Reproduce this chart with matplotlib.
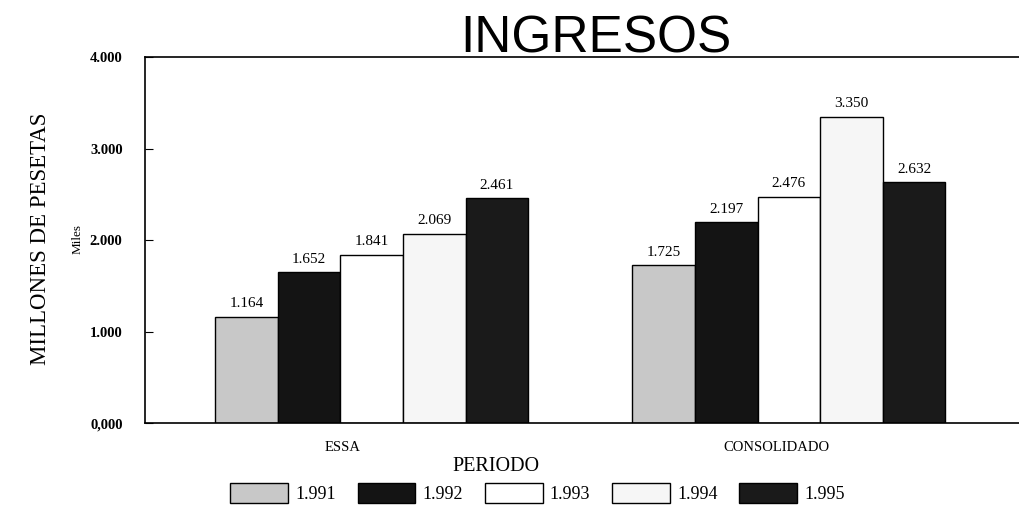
import numpy as np
import matplotlib.pyplot as plt

categories = ["ESSA", "CONSOLIDADO"]
years = ["1.991", "1.992", "1.993", "1.994", "1.995"]
values = {
    "1.991": [1.164, 1.725],
    "1.992": [1.652, 2.197],
    "1.993": [1.841, 2.476],
    "1.994": [2.069, 3.350],
    "1.995": [2.461, 2.632],
}
yticks = [0, 1, 2, 3, 4]
ytick_labels = ["0,000", "1.000", "2.000", "3.000", "4.000"]

colors = ["#c8c8c8", "#141414", "#ffffff", "#f6f6f6", "#1a1a1a"]

serif = ["Liberation Serif", "DejaVu Serif"]
plt.rcParams["font.family"] = serif

fig = plt.figure(figsize=(10.2, 5.2), dpi=100)
ax = fig.add_axes([0.142, 0.1865, 0.858, 0.7035])

x = np.arange(len(categories))
w = 0.15
for i, yr in enumerate(years):
    pos = x + (i - 2) * w
    bars = ax.bar(pos, values[yr], width=w, color=colors[i], edgecolor="black",
                  linewidth=1.0, label=yr)
    for b, v in zip(bars, values[yr]):
        ax.text(b.get_x() + b.get_width() / 2, v + 0.07, f"{v:.3f}",
                ha="center", va="bottom", fontsize=11)

ax.set_xlim(-0.544, 1.554)
ax.set_ylim(0, 4)
ax.set_yticks(yticks)
ax.set_yticklabels(ytick_labels, fontsize=10.5, fontweight="bold")
ax.tick_params(axis="y", direction="in", length=6, pad=16)
ax.set_xticks(x + np.array([-0.07, -0.03]))
ax.set_xticklabels(categories, fontsize=10.5)
ax.tick_params(axis="x", length=0, pad=13)
ax.spines["right"].set_visible(False)
for s in ["left", "top", "bottom"]:
    ax.spines[s].set_linewidth(1.2)

fig.text(0.584, 0.925, "INGRESOS", fontsize=37, ha="center", va="center",
         family=["Liberation Sans", "DejaVu Sans"])
fig.text(0.040, 0.54, "MILLONES DE PESETAS", rotation=90, fontsize=16.5,
         ha="center", va="center")
fig.text(0.076, 0.54, "Miles", rotation=90, fontsize=9.5, ha="center", va="center")
fig.text(0.486, 0.102, "PERIODO", fontsize=14.5, ha="center", va="center")

fig.legend(loc="center", bbox_to_anchor=(0.527, 0.052), ncol=5, frameon=False,
           fontsize=13, handlelength=3.2, handleheight=1.3, columnspacing=1.2,
           handletextpad=0.4)

fig.savefig("out.png", dpi=100)
